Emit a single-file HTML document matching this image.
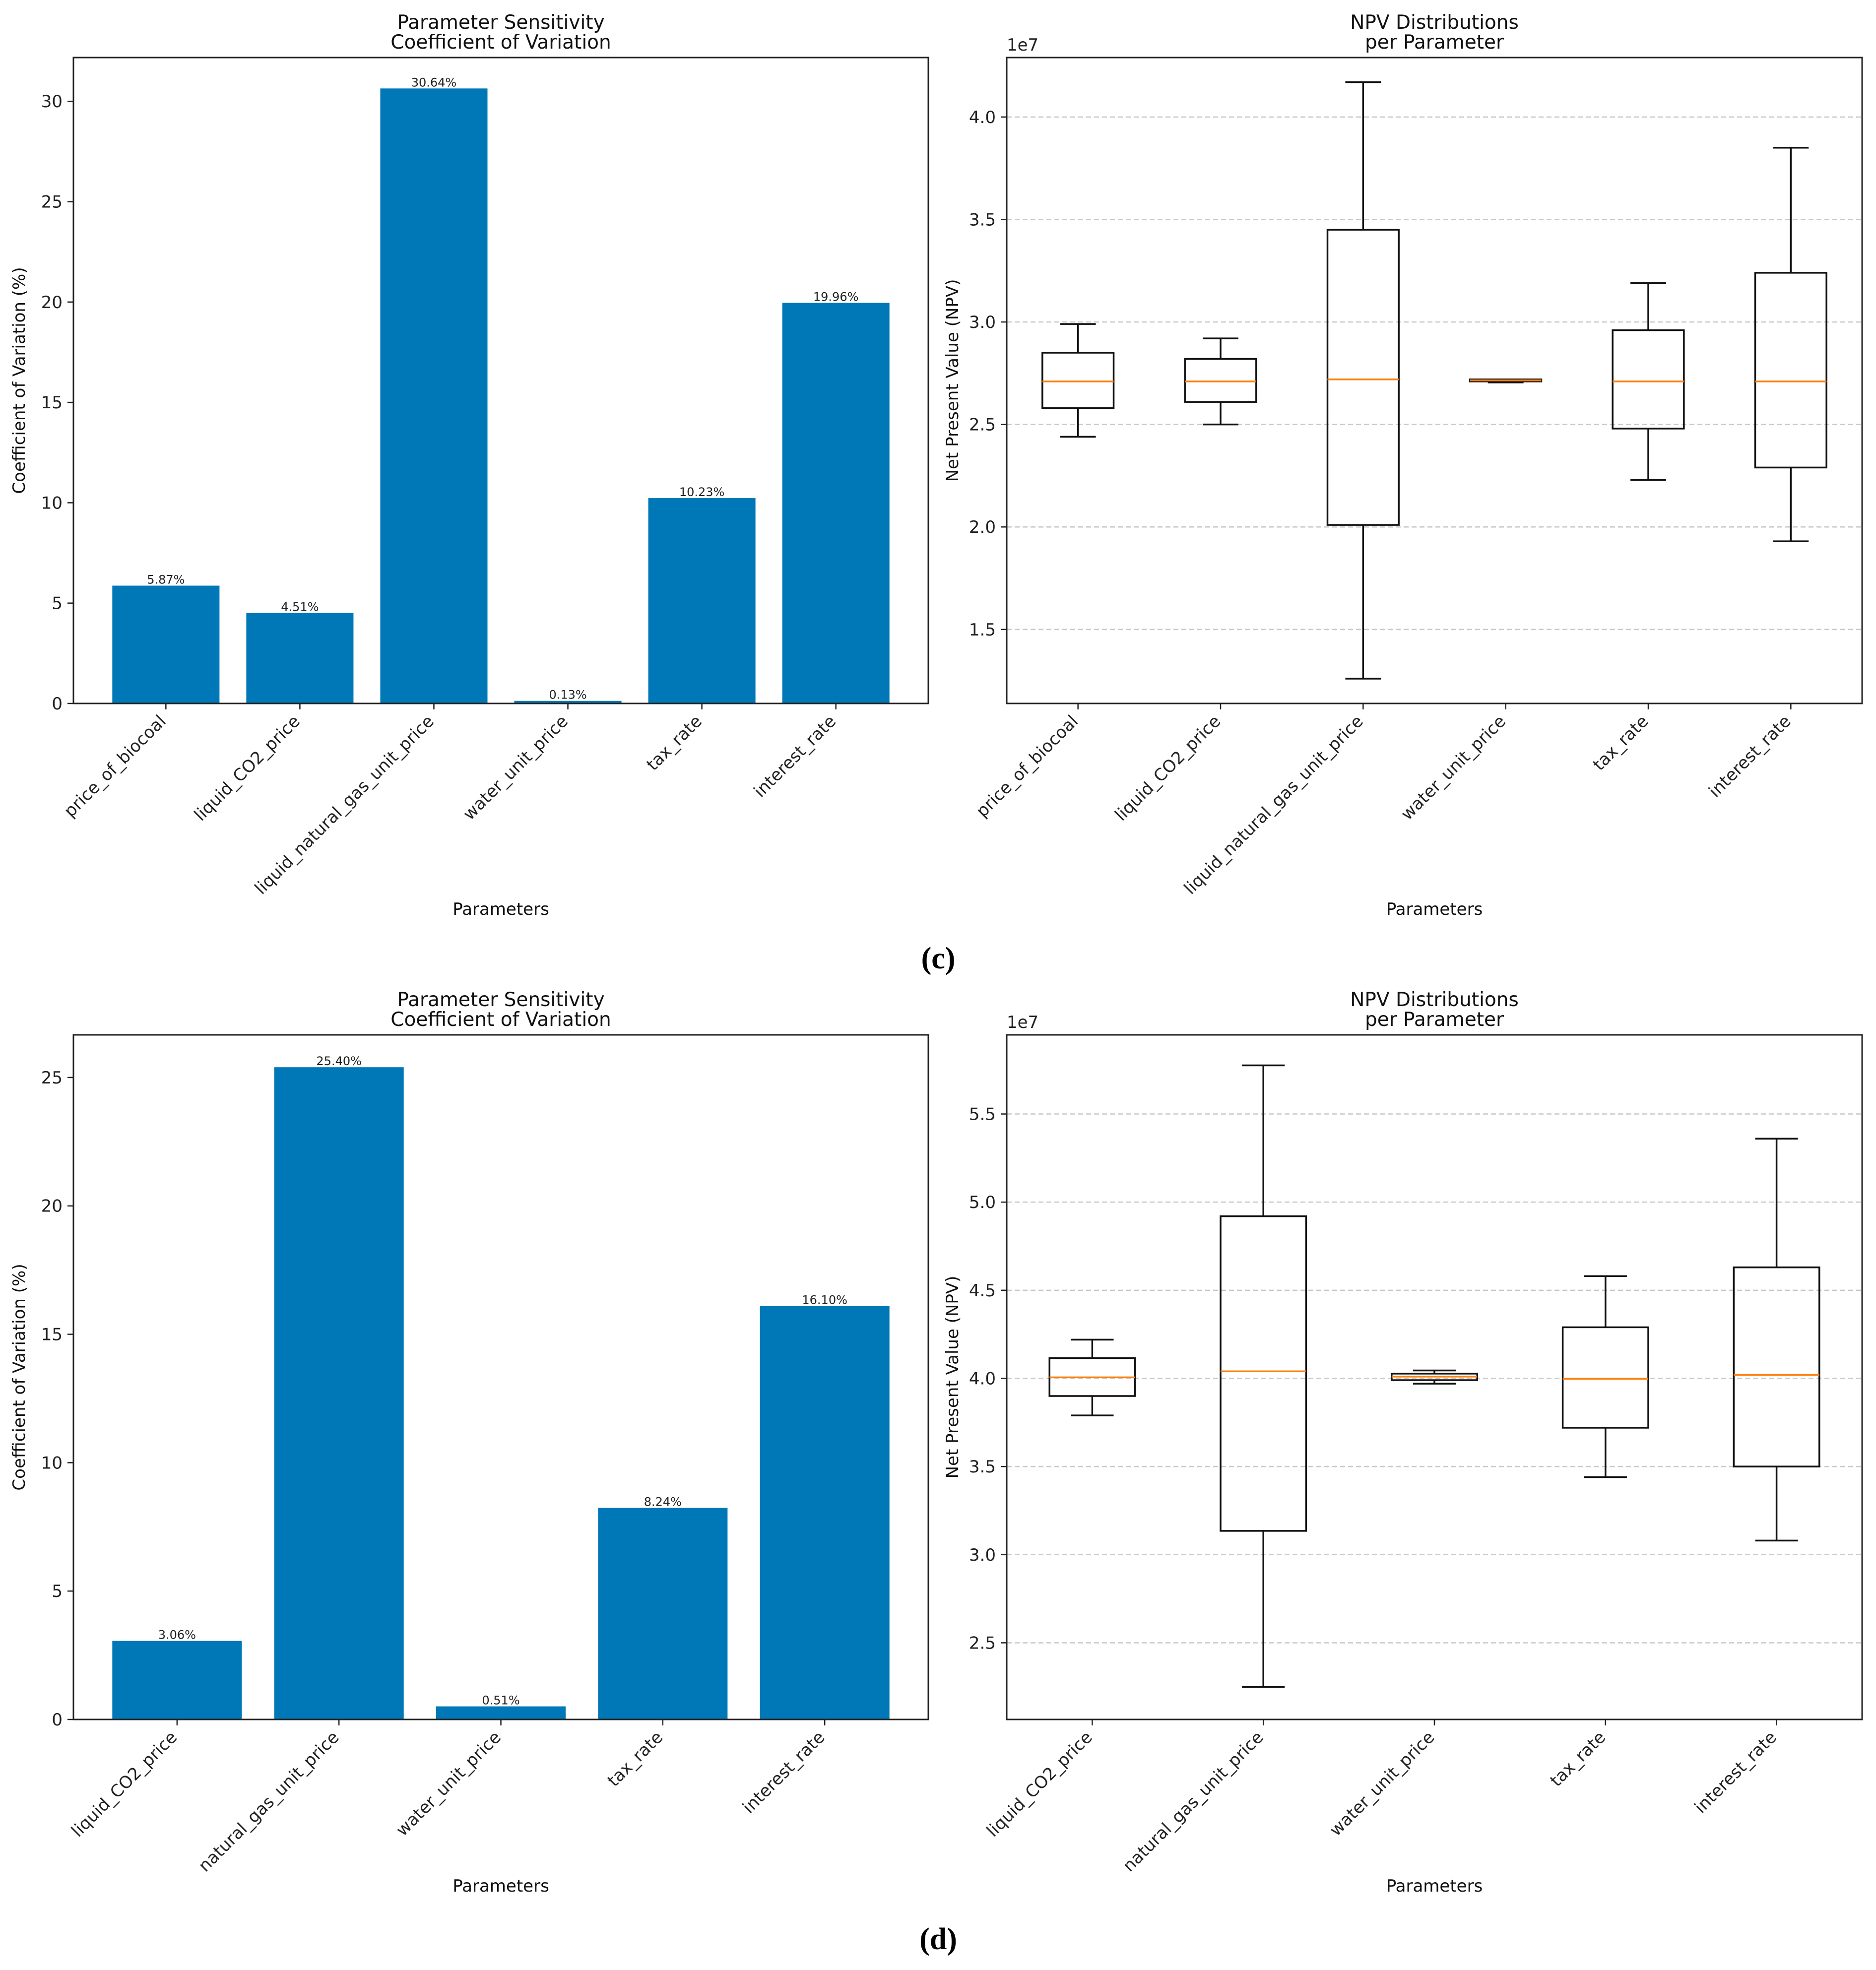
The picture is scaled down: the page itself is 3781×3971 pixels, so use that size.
<!DOCTYPE html>
<html><head><meta charset="utf-8"><style>
html,body{margin:0;padding:0;background:#fff;}
svg{display:block;font-family:"DejaVu Sans","Liberation Sans",sans-serif;}
</style></head><body>
<svg id="fig" width="3781" height="3971" viewBox="0 0 3781 3971" xmlns="http://www.w3.org/2000/svg">
<text x="1891" y="1952" font-family="Liberation Serif, serif" font-weight="bold" font-size="62" text-anchor="middle">(c)</text>
<text x="1891" y="3929" font-family="Liberation Serif, serif" font-weight="bold" font-size="62" text-anchor="middle">(d)</text>
</svg>
<script>
// ---- data ----
const cBarCats = ["price_of_biocoal","liquid_CO2_price","liquid_natural_gas_unit_price","water_unit_price","tax_rate","interest_rate"];
const cBarVals = [5.87, 4.51, 30.64, 0.13, 10.23, 19.96];
const cBarTicks = [0,5,10,15,20,25,30];
const cBoxCats = ["price_of_biocoal","liquid_CO2_price","liquid_natural_gas_unit_price","water_unit_price","tax_rate","interest_rate"];
const cBoxLow  = [2.44, 2.50, 1.26, 2.705, 2.23, 1.93];
const cBoxQ1   = [2.58, 2.61, 2.01, 2.71, 2.48, 2.29];
const cBoxMed  = [2.71, 2.71, 2.72, 2.715, 2.71, 2.71];
const cBoxQ3   = [2.85, 2.82, 3.45, 2.72, 2.96, 3.24];
const cBoxHigh = [2.99, 2.92, 4.17, 2.72, 3.19, 3.85];
const cBoxTicks = [1.5,2.0,2.5,3.0,3.5,4.0];

const dBarCats = ["liquid_CO2_price","natural_gas_unit_price","water_unit_price","tax_rate","interest_rate"];
const dBarVals = [3.06, 25.40, 0.51, 8.24, 16.10];
const dBarTicks = [0,5,10,15,20,25];
const dBoxCats = ["liquid_CO2_price","natural_gas_unit_price","water_unit_price","tax_rate","interest_rate"];
const dBoxLow  = [3.79, 2.25, 3.97, 3.44, 3.08];
const dBoxQ1   = [3.90, 3.135, 3.99, 3.72, 3.50];
const dBoxMed  = [4.006, 4.04, 4.01, 3.998, 4.02];
const dBoxQ3   = [4.115, 4.92, 4.027, 4.29, 4.63];
const dBoxHigh = [4.22, 5.776, 4.045, 4.58, 5.36];
const dBoxTicks = [2.5,3.0,3.5,4.0,4.5,5.0,5.5];

const NS = "http://www.w3.org/2000/svg";
const svg = document.getElementById('fig');
function mk(tag, attrs, parent, txt){
  const e = document.createElementNS(NS, tag);
  for (const k in attrs) e.setAttribute(k, attrs[k]);
  if (txt !== undefined) e.textContent = txt;
  (parent||svg).appendChild(e);
  return e;
}
const FS = 34;

function axesFrame(g, L, T, R, B, title1, title2, ylabel, xlOff){
  const cx = (L+R)/2;
  const t1 = mk('text',{x:cx,y:T-58,'font-size':39,'text-anchor':'middle',fill:'#111'},g,title1);
  
  
  const t2 = mk('text',{x:cx,y:T-18,'font-size':39,'text-anchor':'middle',fill:'#111'},g,title2);
  
  
  const xl = mk('text',{x:cx,y:B+xlOff,'font-size':FS,'text-anchor':'middle',fill:'#111'},g,'Parameters');
  
  
  const yl = mk('text',{x:0,y:0,'font-size':FS,'text-anchor':'middle',fill:'#111',transform:`translate(${L-98},${(T+B)/2}) rotate(-90)`},g,ylabel);
  
  
}
function spines(g,L,T,R,B){
  const r = mk('rect',{x:L,y:T,width:R-L,height:B-T,fill:'none',stroke:'#222','stroke-width':3},g);
  
  
}
function yTicks(g,L,R,ticks,ys,fmt,grid){
  ticks.forEach(t=>{
    const y = ys(t);
    if (grid){
      const gl = mk('line',{x1:L,x2:R,y1:y,y2:y,stroke:'#c8c8c8','stroke-width':2.5,'stroke-dasharray':'10,6'},g);
      
      
    }
    const tk = mk('line',{x1:L-12,x2:L,y1:y,y2:y,stroke:'#222','stroke-width':2.5},g);
    
    
    const tl = mk('text',{x:L-22,y:y+12,'font-size':FS,'text-anchor':'end',fill:'#222'},g,fmt(t));
    
    
  });
}
function xTicks(g,B,cats,xs){
  cats.forEach((c,i)=>{
    const x = xs(i);
    const tk = mk('line',{x1:x,x2:x,y1:B,y2:B+12,stroke:'#222','stroke-width':2.5},g);
    
    
    const tl = mk('text',{x:0,y:0,'font-size':FS,'text-anchor':'end',fill:'#222',transform:`translate(${x+2},${B+38}) rotate(-45)`},g,c);
    
    
  });
}

function barChart(name,L,T,R,B,cats,vals,ticks,ymax,xlOff){
  const g = mk('g',{},svg);
  
  
  const n = cats.length;
  const x0 = -0.4 - 0.05*(n-0.2), x1 = n-1+0.4 + 0.05*(n-0.2);
  const xs = i => L + (i - x0)/(x1-x0)*(R-L);
  const ys = v => B - v/ymax*(B-T);
  const bw = 0.8/(x1-x0)*(R-L);
  axesFrame(g,L,T,R,B,'Parameter Sensitivity','Coefficient of Variation','Coefficient of Variation (%)',xlOff);
  vals.forEach((v,i)=>{
    const b = mk('rect',{x:xs(i)-bw/2,y:ys(v),width:bw,height:B-ys(v),fill:'#0077b6'},g);
    
    
    const lb = mk('text',{x:xs(i),y:ys(v)-4,'font-size':24,'text-anchor':'middle',fill:'#222'},g,v.toFixed(2)+'%');
    
    
  });
  yTicks(g,L,R,ticks,ys,t=>String(t),false);
  xTicks(g,B,cats,xs);
  spines(g,L,T,R,B);
}

function boxChart(name,L,T,R,B,cats,lo,q1,med,q3,hi,ticks,ymin,ymax,xlOff){
  const g = mk('g',{},svg);
  
  
  const n = cats.length;
  const xs = i => L + (i+0.5)/n*(R-L);
  const ys = v => B - (v-ymin)/(ymax-ymin)*(B-T);
  const bw = 0.5/n*(R-L);
  axesFrame(g,L,T,R,B,'NPV Distributions','per Parameter','Net Present Value (NPV)',xlOff);
  yTicks(g,L,R,ticks,ys,t=>t.toFixed(1),true);
  const off = mk('text',{x:L,y:T-14,'font-size':FS,fill:'#222'},g,'1e7');
  
  
  cats.forEach((c,i)=>{
    const x = xs(i);
    const bg = mk('g',{stroke:'#111','stroke-width':3.5,fill:'none'},g);
    
    
    mk('line',{x1:x,x2:x,y1:ys(hi[i]),y2:ys(q3[i])},bg);
    mk('line',{x1:x,x2:x,y1:ys(q1[i]),y2:ys(lo[i])},bg);
    mk('line',{x1:x-bw/4,x2:x+bw/4,y1:ys(hi[i]),y2:ys(hi[i])},bg);
    mk('line',{x1:x-bw/4,x2:x+bw/4,y1:ys(lo[i]),y2:ys(lo[i])},bg);
    mk('rect',{x:x-bw/2,y:ys(q3[i]),width:bw,height:Math.max(1,ys(q1[i])-ys(q3[i]))},bg);
    const m = mk('line',{x1:x-bw/2,x2:x+bw/2,y1:ys(med[i]),y2:ys(med[i]),stroke:'#ff7f0e','stroke-width':3.5},g);
    
    
  });
  xTicks(g,B,cats,xs);
  spines(g,L,T,R,B);
}

barChart('bar-chart-c',148,116,1871,1418,cBarCats,cBarVals,cBarTicks,32.18,426);
boxChart('box-chart-c',2029,116,3753,1418,cBoxCats,cBoxLow,cBoxQ1,cBoxMed,cBoxQ3,cBoxHigh,cBoxTicks,1.139,4.29,426);
barChart('bar-chart-d',148,2086,1871,3466,dBarCats,dBarVals,dBarTicks,26.66,347);
boxChart('box-chart-d',2029,2086,3753,3466,dBoxCats,dBoxLow,dBoxQ1,dBoxMed,dBoxQ3,dBoxHigh,dBoxTicks,2.065,5.949,347);
</script>
</body></html>
